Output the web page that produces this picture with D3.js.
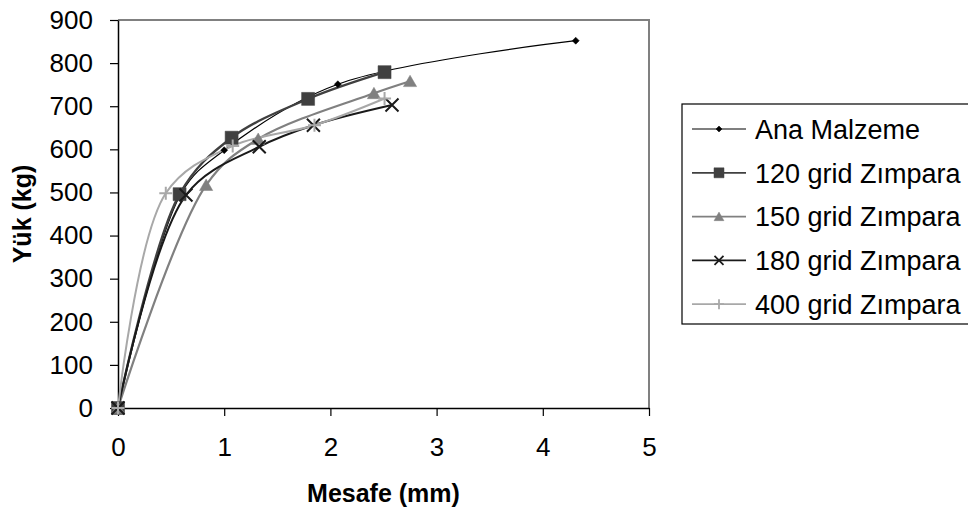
<!DOCTYPE html>
<html>
<head>
<meta charset="utf-8">
<script src="https://cdn.jsdelivr.net/npm/d3@7"></script>
<style>
  body { margin: 0; background: #fff; }
  text { font-family: "Liberation Sans", Arial, sans-serif; fill: #000; }
</style>
</head>
<body>
<div id="chart"></div>
<script>
  //series names and values (x = Mesafe mm, y = Yük kg)
  const seriesNames = ["Ana Malzeme", "120 grid Zımpara", "150 grid Zımpara", "180 grid Zımpara", "400 grid Zımpara"];
  const anaX = [0, 0.6, 1.0, 2.07, 4.31],
    anaY = [0, 500, 598, 751, 852];
  const g120X = [0, 0.58, 1.07, 1.79, 2.51],
    g120Y = [0, 496, 627, 717, 779];
  const g150X = [0, 0.83, 1.32, 2.41, 2.75],
    g150Y = [0, 517, 624, 730, 758];
  const g180X = [0, 0.64, 1.33, 1.84, 2.58],
    g180Y = [0, 494, 606, 656, 703];
  const g400X = [0, 0.45, 1.08, 1.85, 2.51],
    g400Y = [0, 498, 608, 656, 718];
  const xTicks = [0, 1, 2, 3, 4, 5],
    yTicks = [0, 100, 200, 300, 400, 500, 600, 700, 800, 900];

  const width = 968,
    height = 510,
    plot = {left: 118, right: 649, top: 20, bottom: 408};

  //marker shapes, s = full size in px
  const shapes = {
    diamond: s => `M0,${-s/2}L${s/2},0L0,${s/2}L${-s/2},0Z`,
    square: s => `M${-s/2},${-s/2}h${s}v${s}h${-s}Z`,
    triangle: s => `M0,${-s*0.5}L${s*0.55},${s*0.45}L${-s*0.55},${s*0.45}Z`,
    cross: s => `M${-s/2},${-s/2}L${s/2},${s/2}M${s/2},${-s/2}L${-s/2},${s/2}`,
    plus: s => `M${-s/2},0H${s/2}M0,${-s/2}V${s/2}`
  };

  //styles for each series
  const styles = [
    {color: "#000000", lw: 1.2, shape: "diamond", size: 7, lsize: 6, filled: true},
    {color: "#404040", lw: 2.4, shape: "square", size: 13, lsize: 10, filled: true},
    {color: "#808080", lw: 2.2, shape: "triangle", size: 12, lsize: 9, filled: true},
    {color: "#1a1a1a", lw: 2, shape: "cross", size: 13, lsize: 9, filled: false},
    {color: "#a8a8a8", lw: 2, shape: "plus", size: 13, lsize: 10, filled: false}
  ];

  const seriesData = [
    d3.zip(anaX, anaY), d3.zip(g120X, g120Y), d3.zip(g150X, g150Y),
    d3.zip(g180X, g180Y), d3.zip(g400X, g400Y)
  ];

  const svg = d3.select("#chart").append("svg")
      .attr("width", width)
      .attr("height", height);

  const x = d3.scaleLinear().domain([0, 5]).range([plot.left, plot.right]);
  const y = d3.scaleLinear().domain([0, 900]).range([plot.bottom, plot.top]);

  //grey frame on top and right
  svg.append("path")
      .attr("d", `M${plot.left},${plot.top}H${plot.right}V${plot.bottom}`)
      .attr("fill", "none")
      .attr("stroke", "#808080")
      .attr("stroke-width", 2);

  //axes
  const yAxis = svg.append("g")
      .attr("transform", "translate(" + plot.left + ",0)")
      .call(d3.axisLeft(y).tickValues(yTicks).tickSize(8).tickPadding(17).tickSizeOuter(0));

  const xAxis = svg.append("g")
      .attr("transform", "translate(0," + plot.bottom + ")")
      .call(d3.axisBottom(x).tickValues(xTicks).tickFormat(d3.format("d"))
        .tickSize(8).tickPadding(22).tickSizeOuter(0));

  [xAxis, yAxis].forEach(a => {
    a.select(".domain").attr("stroke", "#000").attr("stroke-width", 1.5);
    a.selectAll(".tick line").attr("stroke", "#000").attr("stroke-width", 1.2);
    a.selectAll(".tick text")
      .style("font-family", "'Liberation Sans', Arial, sans-serif")
      .style("font-size", "26px")
      .attr("fill", "#000");
  });

  //axis titles
  svg.append("text")
      .attr("x", (plot.left + plot.right) / 2)
      .attr("y", 502)
      .attr("text-anchor", "middle")
      .style("font-size", "25px")
      .style("font-weight", "bold")
      .text("Mesafe (mm)");

  svg.append("text")
      .attr("transform", "translate(31," + (plot.top + plot.bottom) / 2 + ") rotate(-90)")
      .attr("text-anchor", "middle")
      .style("font-size", "25px")
      .style("font-weight", "bold")
      .text("Yük (kg)");

  //smoothed lines
  const line = d3.line()
      .x(d => x(d[0]))
      .y(d => y(d[1]))
      .curve(d3.curveCatmullRom.alpha(0.5));

  seriesData.forEach((data, i) => {
    const st = styles[i];
    svg.append("path")
        .datum(data)
        .attr("d", line)
        .attr("fill", "none")
        .attr("stroke", st.color)
        .attr("stroke-width", st.lw);
  });

  //markers drawn over the lines
  seriesData.forEach((data, i) => {
    const st = styles[i];
    svg.selectAll(".m" + i)
      .data(data)
      .enter().append("path")
        .attr("class", "m" + i)
        .attr("transform", d => "translate(" + x(d[0]) + "," + y(d[1]) + ")")
        .attr("d", shapes[st.shape](st.size))
        .attr("fill", st.filled ? st.color : "none")
        .attr("stroke", st.color)
        .attr("stroke-width", st.filled ? 0.5 : 2);
  });

  //legend box
  const legend = svg.append("g").attr("transform", "translate(682,104)");

  legend.append("rect")
      .attr("x", 0)
      .attr("y", 0)
      .attr("width", 320)
      .attr("height", 220)
      .attr("fill", "#fff")
      .attr("stroke", "#000")
      .attr("stroke-width", 1.2);

  const items = legend.selectAll(".legend")
      .data(seriesNames)
      .enter().append("g")
        .attr("class", "legend")
        .attr("transform", (d, i) => "translate(0," + (25 + i * 43.8) + ")");

  items.append("line")
      .attr("x1", 10)
      .attr("x2", 64)
      .attr("stroke", (d, i) => styles[i].color)
      .attr("stroke-width", (d, i) => Math.min(styles[i].lw, 1.8));

  items.append("path")
      .attr("transform", "translate(37,0)")
      .attr("d", (d, i) => shapes[styles[i].shape](styles[i].lsize))
      .attr("fill", (d, i) => styles[i].filled ? styles[i].color : "none")
      .attr("stroke", (d, i) => styles[i].color)
      .attr("stroke-width", (d, i) => styles[i].filled ? 0.5 : 1.8);

  items.append("text")
      .attr("x", 73)
      .attr("dy", "0.36em")
      .style("font-size", "27px")
      .text(d => d);
</script>
</body>
</html>
